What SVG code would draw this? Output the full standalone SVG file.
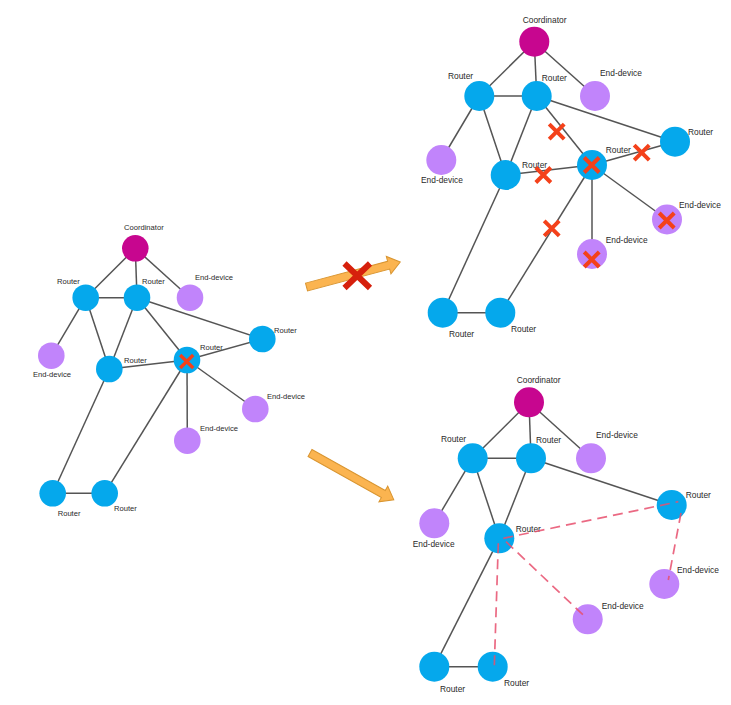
<svg xmlns="http://www.w3.org/2000/svg" xmlns:xlink="http://www.w3.org/1999/xlink" width="731" height="705" viewBox="0 0 731 705">
<style>
.edge{stroke:#555;stroke-width:1.5;fill:none}
.dash{stroke:#e8506e;stroke-width:1.7;fill:none;stroke-dasharray:10 6;opacity:0.85}
.router{fill:#05a8ec}
.coord{fill:#c7068f}
.end{fill:#c184fb}
.lbl{font-family:"Liberation Sans",Arial,sans-serif;fill:#2a2a2a}
.s{font-size:7.6px}
.m{font-size:8.4px}
.x{stroke:#f4411a;fill:none;stroke-width:4}
.xs{stroke:#f4411a;fill:none;stroke-width:3.3}
.arrow{fill:#fbb450;stroke:#d99530;stroke-width:1}
</style>
<defs>
<path id="cross" d="M-7.5,-7.5L7.5,7.5M7.5,-7.5L-7.5,7.5"/>
<path id="crossS" d="M-6.5,-6.5L6.5,6.5M6.5,-6.5L-6.5,6.5"/>
</defs>
<rect width="731" height="705" fill="#fff"/>

<g id="connectors">
<g id="left-edges" class="edge">
<line x1="135.3" y1="248.3" x2="85.7" y2="297.7"/>
<line x1="135.3" y1="248.3" x2="137" y2="297.7"/>
<line x1="135.3" y1="248.3" x2="190" y2="297.7"/>
<line x1="85.7" y1="297.7" x2="137" y2="297.7"/>
<line x1="85.7" y1="297.7" x2="51.3" y2="355.7"/>
<line x1="85.7" y1="297.7" x2="109.3" y2="369"/>
<line x1="137" y1="297.7" x2="109.3" y2="369"/>
<line x1="137" y1="297.7" x2="187" y2="360"/>
<line x1="137" y1="297.7" x2="262.3" y2="339"/>
<line x1="109.3" y1="369" x2="187" y2="360"/>
<line x1="109.3" y1="369" x2="52.7" y2="493.3"/>
<line x1="187" y1="360" x2="262.3" y2="339"/>
<line x1="187" y1="360" x2="255.3" y2="409"/>
<line x1="187" y1="360" x2="187.3" y2="440.7"/>
<line x1="187" y1="360" x2="104.7" y2="493.3"/>
<line x1="52.7" y1="493.3" x2="104.7" y2="493.3"/>
</g>
<g id="top-edges" class="edge">
<line x1="534.3" y1="41.7" x2="479.3" y2="96"/>
<line x1="534.3" y1="41.7" x2="536.7" y2="96"/>
<line x1="534.3" y1="41.7" x2="595" y2="96"/>
<line x1="479.3" y1="96" x2="536.7" y2="96"/>
<line x1="479.3" y1="96" x2="441.3" y2="160"/>
<line x1="479.3" y1="96" x2="505.7" y2="175"/>
<line x1="536.7" y1="96" x2="505.7" y2="175"/>
<line x1="536.7" y1="96" x2="592" y2="165"/>
<line x1="536.7" y1="96" x2="675" y2="141.7"/>
<line x1="505.7" y1="175" x2="592" y2="165"/>
<line x1="505.7" y1="175" x2="442.7" y2="312.7"/>
<line x1="592" y1="165" x2="675" y2="141.7"/>
<line x1="592" y1="165" x2="667" y2="219.5"/>
<line x1="592" y1="165" x2="592" y2="254"/>
<line x1="592" y1="165" x2="500.3" y2="312.7"/>
<line x1="442.7" y1="312.7" x2="500.3" y2="312.7"/>
</g>
<g id="bottom-edges" class="edge">
<line x1="529" y1="402.3" x2="472.7" y2="458.3"/>
<line x1="529" y1="402.3" x2="531" y2="458.3"/>
<line x1="529" y1="402.3" x2="591" y2="458.3"/>
<line x1="472.7" y1="458.3" x2="531" y2="458.3"/>
<line x1="472.7" y1="458.3" x2="434.3" y2="523.3"/>
<line x1="472.7" y1="458.3" x2="499.3" y2="538.3"/>
<line x1="531" y1="458.3" x2="499.3" y2="538.3"/>
<line x1="531" y1="458.3" x2="671.7" y2="505"/>
<line x1="499.3" y1="538.3" x2="434.3" y2="666.7"/>
<line x1="434.3" y1="666.7" x2="492.7" y2="666.7"/>
</g>
<g id="arrows">
<polygon class="arrow" transform="translate(306.5,287) rotate(-14.9)" points="0,-4 85,-4 85,-9 97,0 85,9 85,4 0,4"/>
<polygon class="arrow" transform="translate(310,453) rotate(29.2)" points="0,-4 84,-4 84,-9 96,0 84,9 84,4 0,4"/>
<path d="M344.5,263.5L370,288M370,263.5L344.5,288" stroke="#d6200c" stroke-width="6" fill="none"/>
</g>
</g>

<!-- left diagram nodes -->
<g id="L-coord"><circle class="coord" cx="135.3" cy="248.3" r="13.3"/><text class="lbl s" x="124" y="230">Coordinator</text></g>
<g id="L-routerA"><circle class="router" cx="85.7" cy="297.7" r="13.3"/><text class="lbl s" x="57" y="284">Router</text></g>
<g id="L-routerB"><circle class="router" cx="137" cy="297.7" r="13.3"/><text class="lbl s" x="142" y="284.3">Router</text></g>
<g id="L-endTop"><circle class="end" cx="190" cy="297.7" r="13.3"/><text class="lbl s" x="195" y="280">End-device</text></g>
<g id="L-endLeft"><circle class="end" cx="51.3" cy="355.7" r="13.3"/><text class="lbl s" x="33" y="376.7">End-device</text></g>
<g id="L-routerC"><circle class="router" cx="109.3" cy="369" r="13.3"/><text class="lbl s" x="124" y="363.3">Router</text></g>
<g id="L-routerX"><circle class="router" cx="187" cy="360" r="13.3"/><use href="#crossS" class="xs" x="186.7" y="361.5"/><text class="lbl s" x="200" y="350">Router</text></g>
<g id="L-routerRight"><circle class="router" cx="262.3" cy="339" r="13.3"/><text class="lbl s" x="274" y="333.3">Router</text></g>
<g id="L-endRight"><circle class="end" cx="255.3" cy="409" r="13.3"/><text class="lbl s" x="267" y="398.7">End-device</text></g>
<g id="L-endBottom"><circle class="end" cx="187.3" cy="440.7" r="13.3"/><text class="lbl s" x="200" y="430.7">End-device</text></g>
<g id="L-routerBL"><circle class="router" cx="52.7" cy="493.3" r="13.3"/><text class="lbl s" x="57.7" y="516">Router</text></g>
<g id="L-routerBR"><circle class="router" cx="104.7" cy="493.3" r="13.3"/><text class="lbl s" x="114" y="510.7">Router</text></g>

<!-- top-right diagram nodes -->
<g id="T-coord"><circle class="coord" cx="534.3" cy="41.7" r="15"/><text class="lbl m" x="522.7" y="22.7">Coordinator</text></g>
<g id="T-routerA"><circle class="router" cx="479.3" cy="96" r="15"/><text class="lbl m" x="448" y="79.3">Router</text></g>
<g id="T-routerB"><circle class="router" cx="536.7" cy="96" r="15"/><text class="lbl m" x="541.7" y="80.7">Router</text></g>
<g id="T-endTop"><circle class="end" cx="595" cy="96" r="15"/><text class="lbl m" x="600" y="76">End-device</text></g>
<g id="T-endLeft"><circle class="end" cx="441.3" cy="160" r="15"/><text class="lbl m" x="421" y="183.3">End-device</text></g>
<g id="T-routerC"><circle class="router" cx="505.7" cy="175" r="15"/><text class="lbl m" x="522" y="167.7">Router</text></g>
<g id="T-routerX"><circle class="router" cx="592" cy="165" r="15"/><use href="#cross" class="x" x="591.7" y="165"/><text class="lbl m" x="605.7" y="153.3">Router</text></g>
<g id="T-routerRight"><circle class="router" cx="675" cy="141.7" r="15"/><text class="lbl m" x="688" y="135">Router</text></g>
<g id="T-endRight"><circle class="end" cx="667" cy="219.5" r="15"/><use href="#cross" class="x" x="666.7" y="220.5"/><text class="lbl m" x="679" y="208.3">End-device</text></g>
<g id="T-endBottom"><circle class="end" cx="592" cy="254" r="15"/><use href="#cross" class="x" x="591.7" y="259.5"/><text class="lbl m" x="605.7" y="242.7">End-device</text></g>
<g id="T-routerBL"><circle class="router" cx="442.7" cy="312.7" r="15"/><text class="lbl m" x="449" y="336.7">Router</text></g>
<g id="T-routerBR"><circle class="router" cx="500.3" cy="312.7" r="15"/><text class="lbl m" x="511" y="332.3">Router</text></g>
<g id="T-link-crosses">
<use href="#cross" class="x" x="556.7" y="131.7"/>
<use href="#cross" class="x" x="543.3" y="175"/>
<use href="#cross" class="x" x="641.7" y="152.7"/>
<use href="#cross" class="x" x="551.7" y="228.3"/>
</g>

<!-- bottom-right diagram nodes -->
<g id="B-coord"><circle class="coord" cx="529" cy="402.3" r="15"/><text class="lbl m" x="516.7" y="382.7">Coordinator</text></g>
<g id="B-routerA"><circle class="router" cx="472.7" cy="458.3" r="15"/><text class="lbl m" x="441" y="441.7">Router</text></g>
<g id="B-routerB"><circle class="router" cx="531" cy="458.3" r="15"/><text class="lbl m" x="536" y="443.3">Router</text></g>
<g id="B-endTop"><circle class="end" cx="591" cy="458.3" r="15"/><text class="lbl m" x="596" y="438.3">End-device</text></g>
<g id="B-endLeft"><circle class="end" cx="434.3" cy="523.3" r="15"/><text class="lbl m" x="412.7" y="547.3">End-device</text></g>
<g id="B-routerC"><circle class="router" cx="499.3" cy="538.3" r="15"/><text class="lbl m" x="515.7" y="531.7">Router</text></g>
<g id="B-routerRight"><circle class="router" cx="671.7" cy="505" r="15"/><text class="lbl m" x="685.7" y="498.3">Router</text></g>
<g id="B-endRight"><circle class="end" cx="664.3" cy="584" r="15"/><text class="lbl m" x="677" y="572.7">End-device</text></g>
<g id="B-endBottom"><circle class="end" cx="587.7" cy="619.3" r="15"/><text class="lbl m" x="601.7" y="609">End-device</text></g>
<g id="B-routerBL"><circle class="router" cx="434.3" cy="666.7" r="15"/><text class="lbl m" x="440" y="691.7">Router</text></g>
<g id="B-routerBR"><circle class="router" cx="492.7" cy="666.7" r="15"/><text class="lbl m" x="504" y="686">Router</text></g>

<g id="B-new-links" class="dash">
<line x1="503.3" y1="538.3" x2="678.3" y2="501.7"/>
<line x1="681" y1="513" x2="668.3" y2="580"/>
<line x1="506" y1="541.7" x2="585" y2="616.7"/>
<line x1="498.3" y1="543.3" x2="494.3" y2="666"/>
</g>
</svg>
